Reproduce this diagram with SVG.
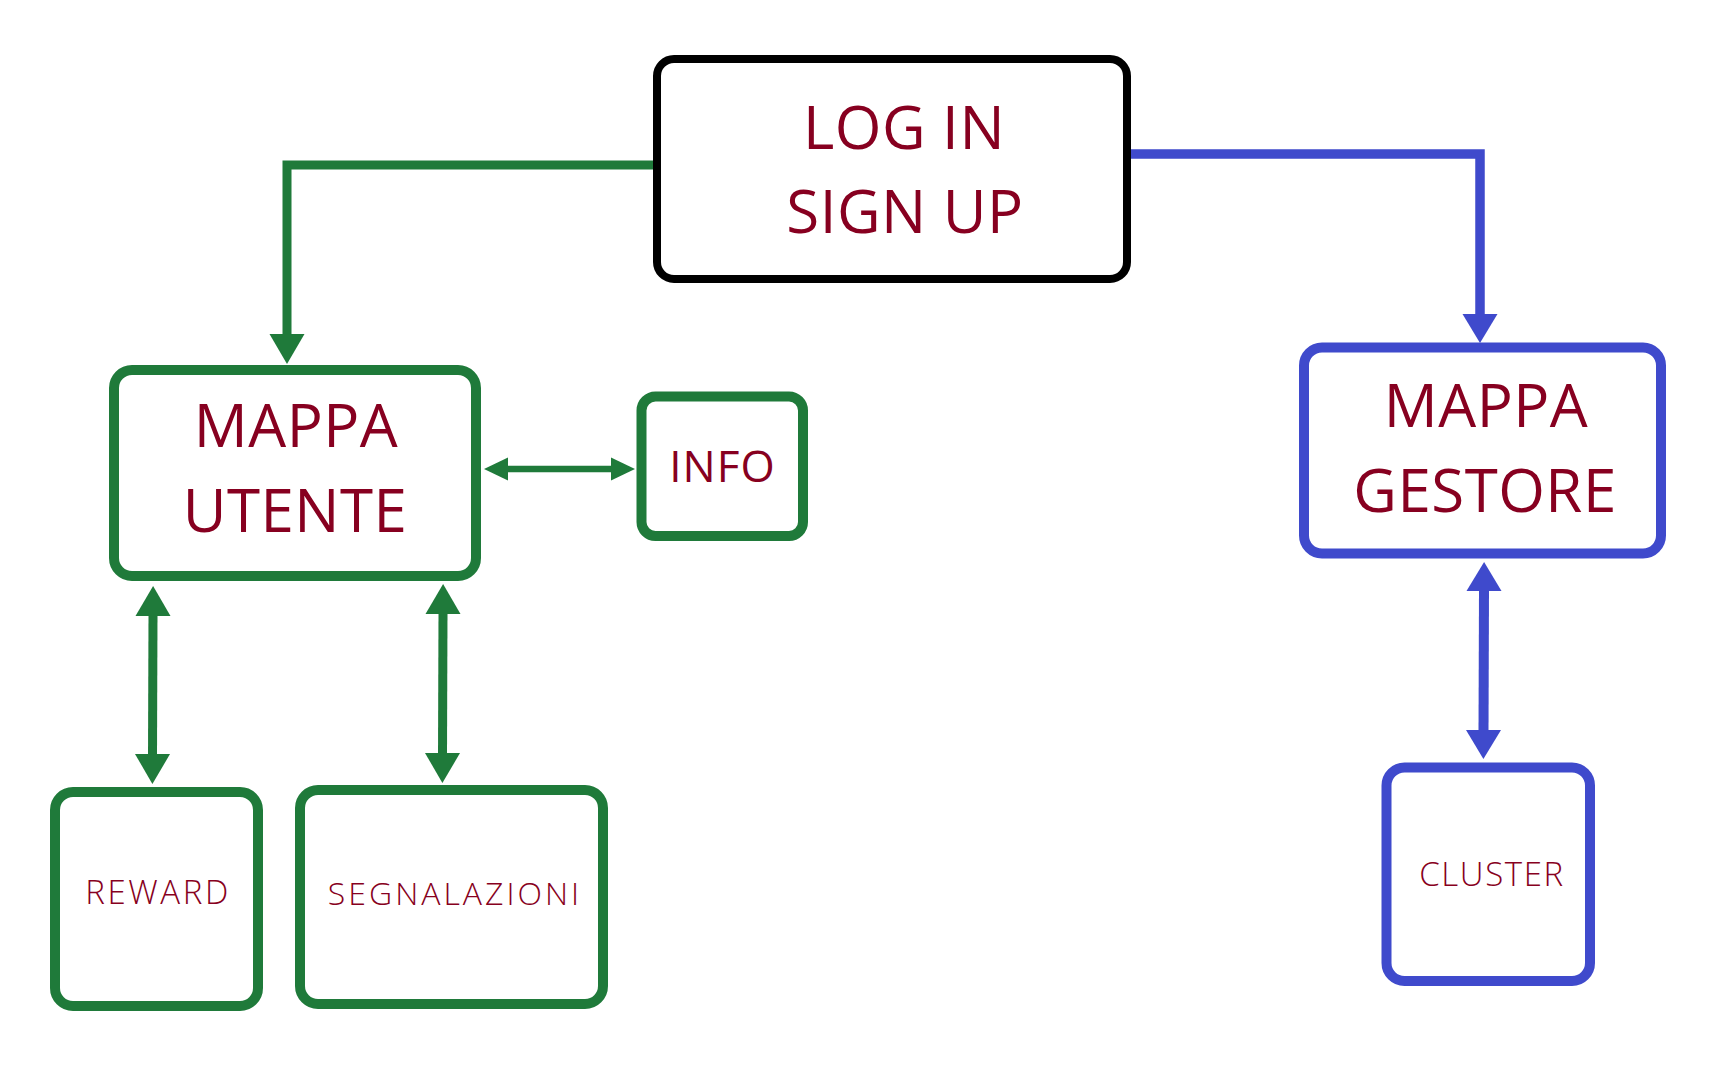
<svg xmlns="http://www.w3.org/2000/svg" width="1718" height="1075" viewBox="0 0 1718 1075">
<style>
.box{fill:#ffffff;stroke-linejoin:round}
.k{stroke:#000000;stroke-width:8}
.g{stroke:#1f7a3a;stroke-width:10}
.b{stroke:#3f4acc;stroke-width:10}
.t{font-family:"Open Sans","Liberation Sans",sans-serif;fill:#870020;text-anchor:middle;font-weight:400}
.big{font-size:60px;letter-spacing:0.5px}
.sm{font-weight:300}
.conn{fill:none;stroke-linejoin:miter}
.cg{stroke:#1f7a3a}
.cb{stroke:#3f4acc}
</style>
<defs>
<marker id="mg" markerUnits="userSpaceOnUse" orient="auto-start-reverse" markerWidth="31" markerHeight="35" refX="1" refY="17.5" overflow="visible">
<path d="M0,0 L30,17.5 L0,35 z" fill="#1f7a3a"/>
</marker>
<marker id="mgs" markerUnits="userSpaceOnUse" orient="auto-start-reverse" markerWidth="25" markerHeight="23" refX="1" refY="11.5" overflow="visible">
<path d="M0,0 L24,11.5 L0,23 z" fill="#1f7a3a"/>
</marker>
<marker id="mb" markerUnits="userSpaceOnUse" orient="auto-start-reverse" markerWidth="31" markerHeight="35" refX="1" refY="17.5" overflow="visible">
<path d="M0,0 L29,17.5 L0,35 z" fill="#3f4acc"/>
</marker>
</defs>
<rect width="1718" height="1075" fill="#ffffff"/>
<g id="connectors">
<path class="conn cg" stroke-width="9" d="M653,165 H287 V335" marker-end="url(#mg)"/>
<path class="conn cb" stroke-width="9.5" d="M1131,154 H1480 V315" marker-end="url(#mb)"/>
<path class="conn cg" stroke-width="6.5" d="M507,469 H612" marker-start="url(#mgs)" marker-end="url(#mgs)"/>
<path class="conn cg" stroke-width="9" d="M153,615 L152.5,755" marker-start="url(#mg)" marker-end="url(#mg)"/>
<path class="conn cg" stroke-width="9" d="M443,613 L442.5,754" marker-start="url(#mg)" marker-end="url(#mg)"/>
<path class="conn cb" stroke-width="10" d="M1484,590 L1483.5,731" marker-start="url(#mb)" marker-end="url(#mb)"/>
</g>
<g id="login">
<rect class="box k" x="657" y="59" width="470" height="220" rx="17"/>
<text class="t big" x="904" y="149">LOG IN</text>
<text class="t big" x="905" y="233">SIGN UP</text>
</g>
<g id="mappa-utente">
<rect class="box g" x="114" y="370" width="362" height="206" rx="18"/>
<text class="t big" x="296" y="447">MAPPA</text>
<text class="t big" x="295" y="532">UTENTE</text>
</g>
<g id="info">
<rect class="box g" x="641.5" y="396.5" width="161.5" height="139.5" rx="14" stroke-width="8"/>
<text class="t" x="722.5" y="482" font-size="44" letter-spacing="1">INFO</text>
</g>
<g id="reward">
<rect class="box g" x="55" y="792" width="203" height="214" rx="18"/>
<text class="t sm" x="158" y="904" font-size="33" letter-spacing="2.6">REWARD</text>
</g>
<g id="segnalazioni">
<rect class="box g" x="300" y="790" width="303" height="214" rx="18"/>
<text class="t sm" x="455" y="905" font-size="32" letter-spacing="3">SEGNALAZIONI</text>
</g>
<g id="mappa-gestore">
<rect class="box b" x="1304" y="347.5" width="357" height="206" rx="18"/>
<text class="t big" x="1486" y="427">MAPPA</text>
<text class="t big" x="1485" y="512">GESTORE</text>
</g>
<g id="cluster">
<rect class="box b" x="1386.5" y="767.5" width="203.5" height="213.5" rx="18" stroke-width="12"/>
<text class="t sm" x="1492" y="886" font-size="33" letter-spacing="1.6">CLUSTER</text>
</g>
</svg>
